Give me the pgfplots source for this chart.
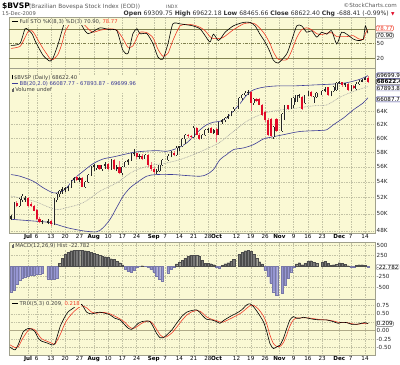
\documentclass[border=0pt]{standalone}
\usepackage{fontspec}
\setmainfont{DejaVu Sans}
\usepackage{pgfplots}
\pgfplotsset{compat=1.18}
\definecolor{panelbg}{RGB}{250,249,212}
\definecolor{gridc}{RGB}{195,195,165}
\definecolor{framec}{RGB}{160,160,140}
\definecolor{levc}{RGB}{130,130,80}
\definecolor{bbblue}{RGB}{60,60,150}
\definecolor{candred}{RGB}{225,10,40}
\definecolor{stored}{RGB}{240,60,40}
\definecolor{macdpos}{RGB}{120,120,120}
\definecolor{macdneg}{RGB}{150,150,210}
\definecolor{zeroc}{RGB}{175,170,135}
\definecolor{txtgray}{RGB}{90,90,90}
\newcommand{\tk}{\fontsize{5.6}{6}\selectfont}
\newcommand{\lgf}{\fontsize{5.3}{6.2}\selectfont}
\tikzset{
  vbox/.style={draw, rounded corners=1.2pt, inner sep=0.6pt, fill=white, font=\tk, line width=0.35pt, anchor=west, xshift=1pt},
  leg/.style={anchor=north west, font=\lgf, inner sep=0.8pt, fill=panelbg, text=black!75, align=left},
}
\pgfplotsset{
  panel/.style={
    scale only axis, width=366pt, xmin=-9.7, xmax=118.5,
    anchor=north west, clip mode=individual,
    axis background/.style={fill=panelbg},
    axis line style={draw=framec, line width=0.4pt},
    major tick length=0pt, minor tick length=0pt,
    yticklabel pos=right,
    yticklabel style={font=\tk, text=black!85, xshift=0.5pt, inner sep=1pt},
    xticklabel style={font=\tk, text=black, inner sep=1pt},
    xtick={-3,0,5,10,15,20,25,30,35,41,45,50,55,60,63,70,75,80,85,90,95,100,106,110,115},
    xmajorgrids, ymajorgrids,
    grid style={draw=gridc, line width=0.3pt, dash pattern=on 0.5pt off 1.2pt},
    xticklabels={},
  },
  datelabels/.style={xticklabels={\textbf{Jul},6,13,20,27,\textbf{Aug},10,17,24,\textbf{Sep},7,14,21,28,\textbf{Oct},12,19,26,\textbf{Nov},9,16,23,\textbf{Dec},7,14}},
}
\begin{document}
\begin{tikzpicture}
\useasboundingbox (0,0) rectangle (400pt,-365pt);
\fill[white] (0,0) rectangle (400pt,-365pt);
% header
\node[anchor=base west, inner sep=0] at (2pt,-8pt) {\fontsize{7.6}{8}\selectfont\bfseries\$BVSP};
\node[anchor=base west, inner sep=0, text=txtgray] at (29pt,-8pt) {\fontsize{5.8}{6}\selectfont(Brazilian Bovespa Stock Index (EOD))};
\node[anchor=base west, inner sep=0, text=txtgray] at (166pt,-8pt) {\fontsize{4.6}{5}\selectfont INDX};
\node[anchor=base east, inner sep=0, text=txtgray] at (397pt,-7pt) {\fontsize{5.6}{6}\selectfont ©StockCharts.com};
\node[anchor=base west, inner sep=0, text=txtgray] at (2pt,-15.5pt) {\fontsize{5.2}{6}\selectfont 15-Dec-2009};
\node[anchor=base east, inner sep=0, text=black!80] at (389pt,-15.5pt) {\fontsize{6.1}{6.5}\selectfont \textbf{Open} 69309.75 \textbf{High} 69622.18 \textbf{Low} 68465.66 \textbf{Close} 68622.40 \textbf{Chg} -688.41 (-0.99\%)};
\node[anchor=base west, inner sep=0, text=candred] at (391pt,-15.5pt) {\fontsize{4.5}{5}\selectfont ▼};

% ---------------- STO panel
\begin{axis}[panel, at={(9pt,-17.5pt)}, height=50.5pt, ymin=0, ymax=103,
  ytick={20,80}, yticklabels={20,80},
  extra y ticks={50}, extra y tick labels={50},
  extra y tick style={grid style={draw=levc, line width=0.45pt, dash pattern=on 3pt off 1.2pt on 0.8pt off 1.2pt}},
  ]
\draw[levc, line width=0.5pt] (axis cs:-9.7,80) -- (axis cs:118.5,80);
\draw[levc, line width=0.5pt] (axis cs:-9.7,20) -- (axis cs:118.5,20);
\addplot[stored, line width=0.6pt, smooth, tension=0.4] coordinates {
(-9,40)(-5.85,44)(-4.1,62)(-3.05,74)(-1.65,76)(-0.6,68)(0.46,57)(2.2,40)(3.6,28)(4.66,19)(5.7,17)(7.46,28)(8.86,50)(9.9,73)(11.7,91)(13.4,94)(15.2,93)(16.9,87)(18,80)(19.7,73)(22.2,77)(25.7,80)(28.1,77)(30.2,60)(32,42)(33.7,45)(35.1,62)(36.2,73)(38.6,72)(40.7,62)(42.5,38)(44.2,24)(46,30)(47.7,56)(50.2,86)(52.6,89)(54.7,88)(57.2,83)(59,76)(60.7,64)(61.9,60)(63.6,60)(64.8,61)(66,65)(68.9,78)(72.4,90)(74.7,92)(76.5,90)(78.2,81)(80,68)(81.7,50)(82.9,33)(84.6,18)(87.6,17)(89.3,35)(91.1,62)(92.8,78)(94.6,82)(96.3,78)(98.1,70)(99.8,68)(101.6,71)(103.3,72)(105.1,64)(106.8,64)(108.6,64)(110.9,66)(112.6,60)(114.4,58)(115.1,70)(116,78.77)};
\addplot[black, line width=0.6pt, smooth, tension=0.4] coordinates {
(-9,46)(-5.85,50)(-4.1,80)(-3.05,78)(-1.65,70)(-0.6,56)(0.46,44)(2.2,26)(3.6,18)(4.66,14)(5.7,20)(7.46,48)(8.86,76)(9.9,94)(11.7,94)(13.4,94)(15.2,92)(16.9,76)(18,70)(19.7,74)(22.2,82)(25.7,78)(28.1,76)(30.2,36)(32,30)(33.7,70)(35.1,80)(36.2,70)(38.6,70)(40.7,50)(42.5,22)(44.2,18)(46,50)(47.7,90)(50.2,90)(52.6,88)(54.7,86)(57.2,80)(59,66)(60.7,53)(61.9,69)(63.6,56)(64.8,63)(66,73)(68.9,86)(72.4,93)(74.7,93)(76.5,86)(78.2,69)(80,53)(81.7,33)(82.9,16)(84.6,10)(87.6,29)(89.3,56)(91.1,86)(92.8,86)(94.6,73)(96.3,76)(98.1,63)(99.8,73)(101.6,69)(103.3,76)(105.1,49)(106.8,73)(108.6,69)(110.9,59)(112.6,56)(114.4,59)(115.1,86)(116,70.9)};
\node[leg] at (rel axis cs:0,1) [xshift=2pt, yshift=-1pt] {\textcolor{black}{\rule[1.5pt]{6pt}{0.7pt}} Full STO \%K(8,3) \%D(3) 70.90, \textcolor{stored}{78.77}};
\node[vbox, draw=black!70] at (axis cs:118.5,70.9) [yshift=-2.2pt] {70.90};
\node[vbox, draw=stored, text=stored] at (axis cs:118.5,78.77) [yshift=1.2pt] {78.77};
\end{axis}

% ---------------- Price panel
\begin{axis}[panel, datelabels, at={(9pt,-68pt)}, height=165pt, ymode=log, ymin=47770, ymax=71000,
  ytick={48000,50000,52000,54000,56000,58000,60000,62000,64000},
  yticklabels={48K,50K,52K,54K,56K,58K,60K,62K,64K}, yminorticks=false,
  ]
% Bollinger bands
\addplot[gray!75, line width=0.55pt, dash pattern=on 0.8pt off 0.8pt, smooth, tension=0.5] coordinates {
(-9,52190)(-1.2,51590)(6.4,50560)(10.5,50760)(16.3,51370)(22.2,52820)(28,53880)(33.9,55400)(39.7,56150)(45.5,56520)(50.2,56970)(54.9,57650)(59.5,58450)(64.2,59380)(68.9,60950)(73.6,62470)(78.2,63440)(82.9,64020)(89.9,64410)(96.9,64820)(101.6,64970)(106.2,66180)(110.9,67100)(116,67894)};
\addplot[bbblue, line width=0.6pt, smooth, tension=0.5] coordinates {
(-9,54960)(-5.85,54740)(-1.2,54090)(2.3,53240)(5.8,52600)(8.2,52680)(10.5,53240)(12.8,54310)(16.3,55400)(19.8,56430)(23.3,57060)(26.8,57340)(30.3,57650)(33.9,57970)(37.3,58120)(42,58210)(45.5,58120)(47.9,58350)(50.2,58730)(52.5,59290)(54.9,60230)(57.2,61200)(59.5,61940)(61.9,62320)(64.2,62470)(66.5,62940)(68.9,64020)(71.2,65160)(73.6,66540)(75.9,67340)(79.4,67780)(84.1,68000)(89.9,68000)(96.9,68150)(103.9,68310)(108.6,68530)(113.2,69090)(116,69700)};
\addplot[bbblue, line width=0.6pt, smooth, tension=0.5] coordinates {
(-9,49360)(-1.2,49160)(4.7,48970)(10.5,48390)(16.3,48010)(21,47900)(23.3,48390)(25.7,49360)(28,50760)(30.3,52190)(32.7,53240)(35,53880)(38.5,54740)(42,54960)(47.9,54960)(52.5,54830)(57.2,54740)(59.5,54960)(61.9,55620)(64.2,56970)(66.5,57650)(68.9,58350)(72.4,58590)(75.9,59050)(79.4,59860)(81.7,60090)(86.4,60480)(92.2,60950)(99.2,61100)(101.6,61200)(103.9,61940)(107.4,62940)(110.9,64200)(114.4,65300)(116,66088)};
% up candles: wicks
\addplot[black!85, line width=0.45pt, unbounded coords=jump] coordinates {
(-9,49250)(-9,49900)(-9,nan)(-8,49400)(-8,51500)(-8,nan)(-6,50900)(-6,52000)(-6,nan)(-5,51500)(-5,52400)(-5,nan)(-4,51500)(-4,52200)(-4,nan)
(2,48800)(2,49300)(2,nan)(4,48800)(4,49400)(4,nan)(6,48700)(6,51900)(6,nan)(7,51400)(7,52600)(7,nan)(8,52100)(8,52900)(8,nan)
(9,52500)(9,53300)(9,nan)(10,52700)(10,53400)(10,nan)(11,52800)(11,53500)(11,nan)(12,53200)(12,54300)(12,nan)(13,53900)(13,54700)(13,nan)
(15,54000)(15,54700)(15,nan)(17,53200)(17,54100)(17,nan)(18,53900)(18,55100)(18,nan)(19,54800)(19,56100)(19,nan)(20,55500)(20,56400)(20,nan)
(21,55600)(21,56300)(21,nan)(23,55500)(23,56300)(23,nan)(24,55700)(24,56600)(24,nan)(26,55600)(26,57000)(26,nan)(28,55400)(28,56200)(28,nan)
(30,54900)(30,56100)(30,nan)(31,55900)(31,56800)(31,nan)(32,56300)(32,57100)(32,nan)(33,56800)(33,57900)(33,nan)(34,57400)(34,58400)(34,nan)
(36,57000)(36,57800)(36,nan)(38,57000)(38,57800)(38,nan)(42,55000)(42,55700)(42,nan)(43,55300)(43,56300)(43,nan)(44,56100)(44,57000)(44,nan)
(46,56800)(46,57700)(46,nan)(47,57300)(47,58100)(47,nan)(49,57500)(49,58800)(49,nan)(50,58100)(50,58900)(50,nan)(51,58700)(51,60000)(51,nan)
(52,59200)(52,60600)(52,nan)(55,60000)(55,61700)(55,nan)(58,59800)(58,60600)(58,nan)(59,60300)(59,61300)(59,nan)(60,60800)(60,61500)(60,nan)
(62,60600)(62,61300)(62,nan)(64,60400)(64,62400)(64,nan)(65,62100)(65,62800)(65,nan)(66,62300)(66,63100)(66,nan)(67,62800)(67,63500)(67,nan)
(68,63200)(68,64100)(68,nan)(69,63800)(69,64600)(69,nan)(71,64300)(71,66200)(71,nan)(72,65700)(72,66700)(72,nan)(73,66300)(73,67100)(73,nan)
(74,66500)(74,67300)(74,nan)(76,65000)(76,66100)(76,nan)(83,59900)(83,61700)(83,nan)(86,60900)(86,63700)(86,nan)(87,62600)(87,65000)(87,nan)
(89,64300)(89,66000)(89,nan)(90,64500)(90,66200)(90,nan)(91,65400)(91,66600)(91,nan)(92,66100)(92,66700)(92,nan)(94,65100)(94,66600)(94,nan)
(95,66300)(95,67100)(95,nan)(97,65200)(97,66300)(97,nan)(98,66100)(98,67000)(98,nan)(100,66500)(100,67400)(100,nan)(101,67000)(101,67800)(101,nan)
(103,66300)(103,67200)(103,nan)(104,67000)(104,68000)(104,nan)(105,67200)(105,68600)(105,nan)(106,68300)(106,68800)(106,nan)(108,67900)(108,68500)(108,nan)
(110,67200)(110,68100)(110,nan)(112,67400)(112,68600)(112,nan)(113,68200)(113,69000)(113,nan)(114,68600)(114,69100)(114,nan)(115,68900)(115,69500)(115,nan)};
% up candles: bodies (outline then hollow inside)
\addplot[black!85, line width=2.1pt, unbounded coords=jump] coordinates {
(-9,49400)(-9,49700)(-9,nan)(-8,49600)(-8,51300)(-8,nan)(-6,51000)(-6,51800)(-6,nan)(-5,51700)(-5,52200)(-5,nan)(-4,51700)(-4,52000)(-4,nan)
(2,49000)(2,49150)(2,nan)(4,48950)(4,49150)(4,nan)(6,48800)(6,51700)(6,nan)(7,51700)(7,52400)(7,nan)(8,52400)(8,52800)(8,nan)
(9,52800)(9,53100)(9,nan)(10,52900)(10,53200)(10,nan)(11,53200)(11,53400)(11,nan)(12,53300)(12,54200)(12,nan)(13,54200)(13,54500)(13,nan)
(15,54300)(15,54500)(15,nan)(17,53400)(17,54000)(17,nan)(18,54000)(18,54900)(18,nan)(19,54900)(19,55900)(19,nan)(20,55900)(20,56200)(20,nan)
(21,55800)(21,56200)(21,nan)(23,55700)(23,56200)(23,nan)(24,56100)(24,56400)(24,nan)(26,55700)(26,56900)(26,nan)(28,55700)(28,56000)(28,nan)
(30,55200)(30,56000)(30,nan)(31,56000)(31,56600)(31,nan)(32,56600)(32,56900)(32,nan)(33,56900)(33,57700)(33,nan)(34,57700)(34,57900)(34,nan)
(36,57300)(36,57500)(36,nan)(38,57100)(38,57600)(38,nan)(42,55300)(42,55500)(42,nan)(43,55400)(43,56200)(43,nan)(44,56200)(44,56900)(44,nan)
(46,56900)(46,57500)(46,nan)(47,57500)(47,57900)(47,nan)(49,57600)(49,58600)(49,nan)(50,58600)(50,58800)(50,nan)(51,58800)(51,59800)(51,nan)
(52,59800)(52,60400)(52,nan)(55,60100)(55,61500)(55,nan)(58,59900)(58,60400)(58,nan)(59,60400)(59,61100)(59,nan)(60,61100)(60,61300)(60,nan)
(62,60800)(62,61100)(62,nan)(64,60500)(64,62300)(64,nan)(65,62300)(65,62600)(65,nan)(66,62600)(66,63000)(66,nan)(67,63000)(67,63300)(67,nan)
(68,63300)(68,64000)(68,nan)(69,64000)(69,64400)(69,nan)(71,64400)(71,66000)(71,nan)(72,66000)(72,66500)(72,nan)(73,66500)(73,66900)(73,nan)
(74,66800)(74,67000)(74,nan)(76,65200)(76,65900)(76,nan)(83,60100)(83,61600)(83,nan)(86,61000)(86,63600)(86,nan)(87,62700)(87,64900)(87,nan)
(89,64400)(89,65800)(89,nan)(90,65000)(90,66100)(90,nan)(91,65500)(91,66500)(91,nan)(92,66300)(92,66500)(92,nan)(94,65200)(94,66500)(94,nan)
(95,66500)(95,66900)(95,nan)(97,65300)(97,66200)(97,nan)(98,66200)(98,66800)(98,nan)(100,66600)(100,67200)(100,nan)(101,67200)(101,67500)(101,nan)
(103,66400)(103,67100)(103,nan)(104,67100)(104,67900)(104,nan)(105,67300)(105,68500)(105,nan)(106,68400)(106,68600)(106,nan)(108,68100)(108,68400)(108,nan)
(110,67300)(110,68000)(110,nan)(112,67500)(112,68300)(112,nan)(113,68300)(113,68700)(113,nan)(114,68700)(114,68900)(114,nan)(115,69000)(115,69311)(115,nan)};
\addplot[panelbg!60!white, line width=1.0pt, unbounded coords=jump] coordinates {
(-8,49600)(-8,51300)(-8,nan)(-6,51000)(-6,51800)(-6,nan)(-5,51700)(-5,52200)(-5,nan)
(6,48800)(6,51700)(6,nan)(7,51700)(7,52400)(7,nan)(8,52400)(8,52800)(8,nan)(12,53300)(12,54200)(12,nan)
(17,53400)(17,54000)(17,nan)(18,54000)(18,54900)(18,nan)(19,54900)(19,55900)(19,nan)(21,55800)(21,56200)(21,nan)(23,55700)(23,56200)(23,nan)
(26,55700)(26,56900)(26,nan)(30,55200)(30,56000)(30,nan)(31,56000)(31,56600)(31,nan)(33,56900)(33,57700)(33,nan)(38,57100)(38,57600)(38,nan)
(43,55400)(43,56200)(43,nan)(44,56200)(44,56900)(44,nan)(46,56900)(46,57500)(46,nan)(47,57500)(47,57900)(47,nan)(49,57600)(49,58600)(49,nan)
(51,58800)(51,59800)(51,nan)(52,59800)(52,60400)(52,nan)(55,60100)(55,61500)(55,nan)(58,59900)(58,60400)(58,nan)(59,60400)(59,61100)(59,nan)
(64,60500)(64,62300)(64,nan)(66,62600)(66,63000)(66,nan)(68,63300)(68,64000)(68,nan)(69,64000)(69,64400)(69,nan)(71,64400)(71,66000)(71,nan)
(72,66000)(72,66500)(72,nan)(73,66500)(73,66900)(73,nan)(76,65200)(76,65900)(76,nan)(83,60100)(83,61600)(83,nan)(86,61000)(86,63600)(86,nan)
(87,62700)(87,64900)(87,nan)(89,64400)(89,65800)(89,nan)(90,65000)(90,66100)(90,nan)(91,65500)(91,66500)(91,nan)(94,65200)(94,66500)(94,nan)
(95,66500)(95,66900)(95,nan)(97,65300)(97,66200)(97,nan)(98,66200)(98,66800)(98,nan)(100,66600)(100,67200)(100,nan)(103,66400)(103,67100)(103,nan)
(104,67100)(104,67900)(104,nan)(105,67300)(105,68500)(105,nan)(110,67300)(110,68000)(110,nan)(112,67500)(112,68300)(112,nan)(113,68300)(113,68700)(113,nan)};
% down candles: wicks and bodies
\addplot[candred!60, line width=0.45pt, unbounded coords=jump] coordinates {
(-7,50800)(-7,51600)(-7,nan)(-3,50900)(-3,52100)(-3,nan)(-2,50800)(-2,51400)(-2,nan)(-1,50300)(-1,51100)(-1,nan)(0,49300)(0,50600)(0,nan)
(1,48900)(1,49600)(1,nan)(5,48600)(5,49300)(5,nan)(14,54100)(14,54800)(14,nan)(16,53300)(16,54600)(16,nan)(22,55600)(22,56300)(22,nan)
(25,55600)(25,56500)(25,nan)(27,55600)(27,57000)(27,nan)(29,55000)(29,56800)(29,nan)(35,57100)(35,57900)(35,nan)(37,56900)(37,57700)(37,nan)
(39,56000)(39,57700)(39,nan)(40,55500)(40,56600)(40,nan)(41,55100)(41,56000)(41,nan)(48,57400)(48,58200)(48,nan)(53,60000)(53,60600)(53,nan)
(54,59900)(54,60500)(54,nan)(56,60400)(56,61600)(56,nan)(57,59700)(57,60700)(57,nan)(61,60700)(61,61600)(61,nan)(63,59500)(63,61500)(63,nan)
(75,64000)(75,67100)(75,nan)(77,65400)(77,66100)(77,nan)(78,64900)(78,66000)(78,nan)(79,63300)(79,65100)(79,nan)(80,62400)(80,64100)(80,nan)
(81,60300)(81,62900)(81,nan)(82,60100)(82,62900)(82,nan)(84,60900)(84,62900)(84,nan)(88,64200)(88,65000)(88,nan)(93,64200)(93,66300)(93,nan)
(96,66200)(96,67100)(96,nan)(102,66400)(102,67900)(102,nan)(107,67900)(107,68700)(107,nan)(109,67200)(109,68400)(109,nan)(111,67500)(111,68200)(111,nan)
(116,68466)(116,69622)(116,nan)};
\addplot[candred, line width=2.1pt, unbounded coords=jump] coordinates {
(-7,51350)(-7,51000)(-7,nan)(-3,51900)(-3,51000)(-3,nan)(-2,51200)(-2,50950)(-2,nan)(-1,50950)(-1,50400)(-1,nan)(0,50500)(0,49400)(0,nan)
(1,49400)(1,49000)(1,nan)(5,49150)(5,48800)(5,nan)(14,54600)(14,54300)(14,nan)(16,54500)(16,53400)(16,nan)(22,56200)(22,55700)(22,nan)
(25,56400)(25,55700)(25,nan)(27,56900)(27,55700)(27,nan)(29,56000)(29,55200)(29,nan)(35,57900)(35,57300)(35,nan)(37,57500)(37,57100)(37,nan)
(39,57600)(39,56200)(39,nan)(40,56200)(40,55700)(40,nan)(41,55700)(41,55300)(41,nan)(48,57900)(48,57600)(48,nan)(53,60500)(53,60300)(53,nan)
(54,60300)(54,60100)(54,nan)(56,61500)(56,60500)(56,nan)(57,60500)(57,59900)(57,nan)(61,61400)(61,60800)(61,nan)(63,61300)(63,60500)(63,nan)
(75,67000)(75,65200)(75,nan)(77,65900)(77,65600)(77,nan)(78,65900)(78,65000)(78,nan)(79,65000)(79,63400)(79,nan)(80,63900)(80,62600)(80,nan)
(81,62600)(81,60500)(81,nan)(82,62800)(82,60300)(82,nan)(84,62800)(84,61000)(84,nan)(88,64900)(88,64300)(88,nan)(93,66200)(93,64400)(93,nan)
(96,67000)(96,66300)(96,nan)(102,67800)(102,66500)(102,nan)(107,68600)(107,68100)(107,nan)(109,68350)(109,67300)(109,nan)(111,68000)(111,67600)(111,nan)
(116,69310)(116,68622)(116,nan)};
\node[leg] at (rel axis cs:0,1) [xshift=2pt, yshift=-6.5pt] {\textcolor{black}{\rule{1.2pt}{4pt}\,}\$BVSP (Daily) 68622.40\\
\textcolor{bbblue}{\rule[1.5pt]{6pt}{0.7pt} BB(20,2.0) 66087.77 - 67893.87 - 69699.96}\\
\textcolor{black!60}{\rule{1.2pt}{3pt}\rule{1.2pt}{4pt}\,}Volume undef};
\node[vbox, draw=bbblue] at (axis cs:118.5,69700) {69699.96};
\node[vbox, draw=black, font=\tk\bfseries] at (axis cs:118.5,68622) [yshift=0.3pt] {68622.40};
\node[vbox, draw=bbblue!60] at (axis cs:118.5,67894) [yshift=-1.6pt] {67893.87};
\node[vbox, draw=bbblue] at (axis cs:118.5,66088) [yshift=-1.4pt] {66087.77};
\end{axis}

% ---------------- MACD histogram panel
\begin{axis}[panel, at={(9pt,-241.7pt)}, height=57.6pt, ymin=-793, ymax=579,
  ytick={-500,-250,250,500}, yticklabels={-500,-250,250,500},
  ]
\addplot[ybar, bar width=2.3pt, bar shift=0pt, fill=macdneg, draw=macdneg!80!black, line width=0.15pt] coordinates {
(-9,-611)(-8,-571)(-7,-429)(-6,-333)(-5,-286)(-4,-254)(-3,-230)(-2,-214)(-1,-206)(0,-198)(1,-183)(2,-175)(4,-300)(5,-317)(6,-310)(7,-280)
(31,-79)(32,-127)(33,-143)(34,-95)(35,-32)(36,-5)(38,-3)(39,-32)(40,-79)(41,-143)(42,-238)(43,-317)(44,-349)(46,-159)(47,-79)(48,-16)
(63,-24)(64,-56)(80,-95)(81,-238)(82,-413)(83,-611)(84,-698)(86,-651)(87,-452)(88,-294)(89,-135)(90,-16)(110,-32)(111,-24)(116,-22.8)};
\addplot[ybar, bar width=2.3pt, bar shift=0pt, fill=macdpos, draw=black!70, line width=0.15pt] coordinates {
(8,60)(9,183)(10,286)(11,333)(12,365)(13,381)(14,381)(15,381)(16,381)(17,365)(18,349)(19,325)(20,302)(21,286)(22,262)(23,238)(24,222)(25,206)(26,175)(27,159)(28,119)(29,79)(30,32)(37,8)
(49,48)(50,87)(51,143)(52,190)(53,230)(54,254)(55,262)(56,262)(57,230)(58,143)(59,63)(60,63)(61,56)(62,32)(65,16)(66,56)(67,79)(68,111)(69,159)
(71,278)(72,333)(73,365)(74,373)(75,357)(76,286)(77,183)(78,103)(79,48)(91,48)(92,79)(93,32)(94,63)(95,111)(96,127)(97,95)(98,63)
(100,95)(101,111)(102,63)(103,24)(104,32)(105,40)(106,79)(107,63)(108,40)(109,8)(112,16)(113,32)(114,32)(115,24)};
\node[leg] at (rel axis cs:0,1) [xshift=2pt, yshift=-1pt] {\textcolor{black!60}{\rule{1.2pt}{3pt}\rule{1.2pt}{4pt}\,}MACD(12,26,9) Hist -22.782};
\node[vbox, draw=black!50] at (axis cs:118.5,-22.782) {-22.782};
\end{axis}

% ---------------- TRIX panel
\begin{axis}[panel, datelabels, at={(9pt,-299.3pt)}, height=56pt, ymin=-0.732, ymax=0.934,
  ytick={-0.5,-0.25,0.25,0.5,0.75}, yticklabels={-0.50,-0.25,{},0.50,0.75},
  extra y ticks={0}, extra y tick labels={0.00},
  extra y tick style={grid style={draw=zeroc, line width=1.3pt, solid}},
  ]
\addplot[stored, line width=0.6pt, smooth, tension=0.4] coordinates {
(-9.35,-0.42)(-7.6,-0.50)(-6.4,-0.47)(-4.7,-0.20)(-2.9,0.02)(-1.8,0.06)(-0.6,0.02)(0.6,-0.12)(1.7,-0.24)(3.5,-0.31)(5.3,-0.37)(6.4,-0.40)(8.2,-0.12)(9.9,0.22)(11.1,0.38)(12.8,0.55)(14,0.64)(15.8,0.74)(17.5,0.68)(19.3,0.55)(21,0.52)(22.2,0.54)(23.9,0.54)(25.7,0.50)(27.4,0.43)(29.2,0.35)(30.9,0.25)(32.1,0.14)(33.3,0.07)(34.4,0.08)(35.6,0.15)(36.8,0.22)(38.5,0.28)(39.7,0.28)(40.8,0.20)(42,0.04)(43.2,-0.12)(44.3,-0.19)(45.5,-0.18)(47.3,-0.07)(49,0.10)(50.8,0.30)(52.5,0.46)(54.3,0.56)(56,0.60)(57.2,0.58)(58.4,0.50)(59.5,0.41)(61.3,0.34)(63,0.30)(64.2,0.26)(65.4,0.26)(67.7,0.35)(70,0.45)(71.8,0.54)(73.6,0.67)(74.7,0.74)(75.9,0.76)(77.6,0.65)(79.4,0.44)(80.6,0.20)(81.7,-0.13)(82.9,-0.38)(84.1,-0.47)(85.2,-0.47)(86.4,-0.36)(87.6,-0.12)(88.7,0.14)(89.9,0.32)(91.1,0.38)(92.2,0.38)(93.4,0.38)(95.1,0.38)(96.9,0.36)(99.2,0.33)(101.6,0.32)(103.9,0.29)(105.6,0.25)(106.8,0.24)(108.6,0.24)(110.3,0.21)(112.1,0.19)(113.8,0.21)(115,0.22)(116.1,0.218)};
\addplot[black, line width=0.6pt, smooth, tension=0.4] coordinates {
(-9.35,-0.49)(-7.6,-0.57)(-6.4,-0.40)(-4.7,-0.03)(-2.9,0.07)(-1.8,0.05)(-0.6,-0.03)(0.6,-0.23)(1.7,-0.31)(3.5,-0.36)(5.3,-0.42)(6.4,-0.38)(8.2,0.12)(9.9,0.42)(11.1,0.57)(12.8,0.67)(14,0.75)(15.8,0.78)(17.5,0.55)(19.3,0.50)(21,0.54)(22.2,0.55)(23.9,0.52)(25.7,0.47)(27.4,0.37)(29.2,0.32)(30.9,0.17)(32.1,0.07)(33.3,0.04)(34.4,0.12)(35.6,0.22)(36.8,0.27)(38.5,0.29)(39.7,0.27)(40.8,0.12)(42,-0.08)(43.2,-0.21)(44.3,-0.21)(45.5,-0.13)(47.3,0.02)(49,0.22)(50.8,0.42)(52.5,0.55)(54.3,0.60)(56,0.62)(57.2,0.54)(58.4,0.42)(59.5,0.34)(61.3,0.32)(63,0.27)(64.2,0.22)(65.4,0.30)(67.7,0.42)(70,0.52)(71.8,0.62)(73.6,0.77)(74.7,0.80)(75.9,0.72)(77.6,0.52)(79.4,0.27)(80.6,-0.03)(81.7,-0.38)(82.9,-0.53)(84.1,-0.48)(85.2,-0.43)(86.4,-0.23)(87.6,0.07)(88.7,0.32)(89.9,0.42)(91.1,0.37)(92.2,0.37)(93.4,0.40)(95.1,0.37)(96.9,0.34)(99.2,0.32)(101.6,0.32)(103.9,0.27)(105.6,0.22)(106.8,0.25)(108.6,0.24)(110.3,0.19)(112.1,0.19)(113.8,0.22)(115,0.24)(116.1,0.209)};
\node[leg] at (rel axis cs:0,1) [xshift=2pt, yshift=-1pt] {\textcolor{black}{\rule[1.5pt]{6pt}{0.7pt}} TRIX(5,3) 0.209, \textcolor{stored}{0.218}};
\node[vbox, draw=black!60] at (axis cs:118.5,0.209) {0.209};
\end{axis}
\end{tikzpicture}
\end{document}
